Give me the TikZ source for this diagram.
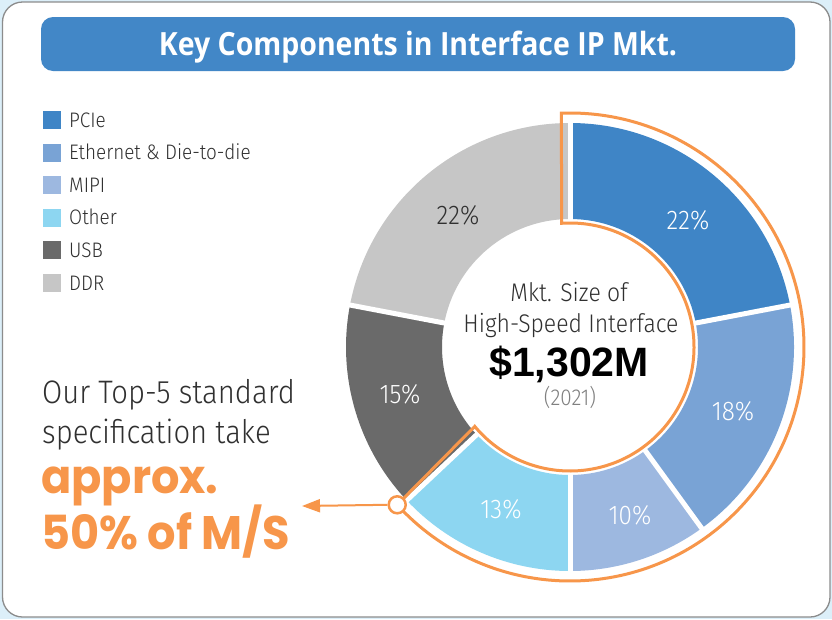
\documentclass[tikz,border=0pt]{standalone}
\usepackage{fontspec}
\usetikzlibrary{arrows.meta,calc}

% fonts: light/bold humanist sans, a bold figure face, a geometric display face
\IfFontExistsTF{Fira Sans Light}
  {\newfontfamily\lite{Fira Sans Light}[FakeStretch=0.9]}
  {\newfontfamily\lite{Open Sans}[FakeStretch=0.87]}
\newfontfamily\headf{Open Sans}[UprightFont=* Bold, FakeStretch=0.89]
\newfontfamily\figf{Liberation Sans}
\newfontfamily\dispf{Poppins}[FakeStretch=0.95]

\definecolor{pcie}{HTML}{3F85C6}
\definecolor{eth}{HTML}{79A3D5}
\definecolor{mipi}{HTML}{9DB8E0}
\definecolor{oth}{HTML}{8DD6F1}
\definecolor{usb}{HTML}{6A6A6A}
\definecolor{ddr}{HTML}{C6C6C6}
\definecolor{accent}{HTML}{F7964A}
\definecolor{titlebar}{HTML}{4287C7}
\definecolor{txt}{HTML}{303030}
\definecolor{cardline}{HTML}{8C8C8C}
\definecolor{outside}{HTML}{DCEFF9}

\tikzset{
  pct/.style={font=\lite\fontsize{27}{30}\selectfont, text=white, inner sep=0pt},
  legbox/.style={fill=#1, minimum size=18pt, inner sep=0pt},
  legtext/.style={font=\lite\fontsize{21}{24}\selectfont, text=txt, anchor=base west, inner sep=0pt},
  centre/.style={font=\lite\fontsize{25.5}{30}\selectfont, text=txt, anchor=base, inner sep=0pt},
  claim/.style={font=\lite\fontsize{32.5}{36}\selectfont, text=txt, anchor=base west, inner sep=0pt},
  big/.style={font=\dispf\bfseries\fontsize{47}{52}\selectfont, text=accent, anchor=base west, inner sep=0pt},
}

\begin{document}
\begin{tikzpicture}[x=1pt, y=-1pt]
\useasboundingbox (0,0) rectangle (832,619);
\fill[outside] (0,0) rectangle (832,619);

% card
\draw[cardline, line width=1.3pt, fill=white, rounded corners=20pt] (2.5,2) rectangle (830,617);

% title bar
\fill[titlebar, rounded corners=12pt] (41,17) rectangle (795,71);
\node[font=\headf\fontsize{32}{36}\selectfont, text=white, anchor=base, inner sep=0pt]
  (title) at (418,55) {Key Components in Interface IP Mkt.};

% legend
\foreach \n/\c/\t [count=\i from 0] in {lp/pcie/PCIe, le/eth/Ethernet \& Die-to-die, lm/mipi/MIPI,
    lo/oth/Other, lu/usb/USB, ld/ddr/DDR} {
  \node[legbox=\c] (\n box) at (52,120+32.6*\i) {};
  \node[legtext] (\n) at (69,127+32.6*\i) {\t};
}

% donut
\coordinate (C) at (570,347);
\foreach \a/\b/\c in {-90/-10.8/pcie, -10.8/54/eth, 54/90/mipi, 90/136.8/oth,
    136.8/190.8/usb, 190.8/270/ddr} {
  \fill[\c] ([shift={(\a:224)}]C) arc[start angle=\a, end angle=\b, radius=224]
    -- ([shift={(\b:128)}]C) arc[start angle=\b, end angle=\a, radius=128] -- cycle;
}
\foreach \a in {-90,-10.8,54,90,136.8,190.8}
  \draw[white, line width=5pt] ([shift={(\a:118)}]C) -- ([shift={(\a:232)}]C);

% slice values
\node[pct] (vp) at (688,220) {22\%};
\node[pct] (ve) at (733,411) {18\%};
\node[pct] (vm) at (630,515) {10\%};
\node[pct] (vo) at (501,509) {13\%};
\node[pct] (vu) at (400,394) {15\%};
\node[pct, text=txt] (vd) at (458,215) {22\%};

% centre text
\node[centre] (c1) at (569,301) {Mkt. Size of};
\node[centre] (c2) at (571,332) {High-Speed Interface};
\node[font=\figf\bfseries\fontsize{41}{46}\selectfont, text=black, anchor=base, inner sep=0pt]
  (c3) at (569,376) {\$1,302M};
\node[font=\lite\fontsize{23}{26}\selectfont, text=gray, anchor=base, inner sep=0pt]
  (c4) at (570,405) {(2021)};

% highlighted group outline
\draw[accent, line width=3pt, line join=miter]
  ([shift={(-93.9:124)}]C) arc[start angle=-93.9, end angle=140.2, radius=124]
  -- ([shift={(137.6:234)}]C) coordinate (m)
  arc[start angle=137.6, end angle=-92.1, radius=234] -- cycle;

% claim text
\node[claim] (t1) at (42,403) {Our Top-5 standard};
\node[claim] (t2) at (42,443) {specification take};
\node[big] (t3) at (41,493) {approx.};
\node[big] (t4) at (41,549) {50\% of M/S};

% pointer
\coordinate (tip) at (302,506);
\node[circle, draw=accent, fill=white, line width=2.5pt, minimum size=17pt, inner sep=0pt] (mk) at (m) {};
\draw[accent, line width=2pt, -{Triangle[length=18pt, width=13pt]}] (mk.west) -- (tip);
\end{tikzpicture}
\end{document}
